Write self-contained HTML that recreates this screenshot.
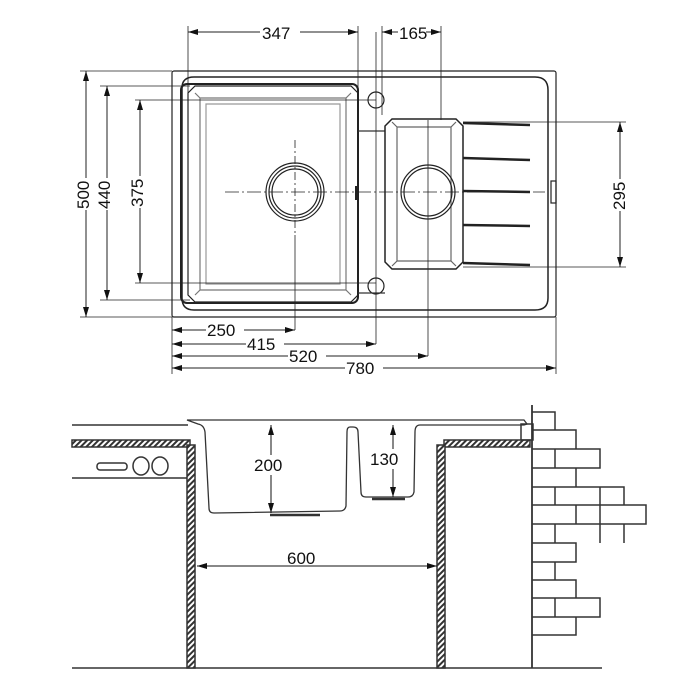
<!DOCTYPE html>
<html><head><style>html,body{margin:0;padding:0;background:#fff}svg{display:block}text{font-family:"Liberation Sans",sans-serif;font-size:17px;fill:#111}</style></head>
<body>
<svg width="700" height="700" viewBox="0 0 700 700" xmlns="http://www.w3.org/2000/svg">
<defs>
<marker id="a" viewBox="0 0 10 6" refX="10" refY="3" markerWidth="10" markerHeight="6" orient="auto-start-reverse" markerUnits="userSpaceOnUse"><path d="M0,0L10,3L0,6z" fill="#111"/></marker>
<pattern id="h" width="4" height="4" patternUnits="userSpaceOnUse" patternTransform="rotate(45)"><rect width="4" height="4" fill="#fff"/><rect width="2" height="4" fill="#333"/></pattern>
</defs>
<g fill="none" stroke="#222" stroke-width="1.2">
<!-- TOP VIEW -->
<rect x="172" y="71" width="384" height="246" rx="2"/>
<path d="M182,88 Q182,77 194,77 L535,77 Q548,77 548,90 L548,298 Q548,310 535,310 L194,310 Q182,310 182,298 Z" stroke-width="1.5"/>
<rect x="181" y="84" width="177" height="219" rx="6" stroke-width="2"/>
<path d="M195,86 L351,86 L358,93 L358,295 L351,302 L195,302 L188,295 L188,93 Z"/>
<path d="M200,98 L346,98 L351,93 M200,98 L195,93 M200,98 L200,290 L195,295 M346,98 L346,290 L351,295 M200,290 L346,290" stroke="#777"/>
<path d="M206,104 L340,104 L340,284 L206,284 Z" stroke="#999"/>
<circle cx="295" cy="192" r="29"/><circle cx="295" cy="192" r="26"/><circle cx="295" cy="192" r="23"/>
<circle cx="376" cy="100" r="8"/><circle cx="376" cy="286" r="8"/>
<path d="M358,131 L385,131 M358,293 L385,293" stroke="#333"/>
<path d="M392,119 L456,119 L463,126 L463,262 L456,269 L392,269 L385,262 L385,126 Z" stroke-width="1.5"/>
<path d="M397,127 L451,127 L456,122 M397,127 L392,122 M397,127 L397,261 L392,266 M451,127 L451,261 L456,266 M397,261 L451,261" stroke="#666"/>
<circle cx="428" cy="192" r="27"/><circle cx="428" cy="192" r="24"/>
<rect x="551" y="181" width="5" height="22"/>
<g stroke-width="2.5"><path d="M463,123 L530,125 M463,158 L530,160 M463,191 L530,192 M463,225 L530,226 M463,263 L530,265"/></g>
<path d="M356,186 L356,200" stroke-width="2"/>
<!-- centerlines -->
<path d="M225,192 L545,192" stroke-dasharray="14,3,2,3" stroke-width="0.8"/>
<path d="M295,140 L295,235" stroke-dasharray="8,3,2,3" stroke-width="0.8"/>
<path d="M295,235 L295,330" stroke-width="0.8"/>
<path d="M428,120 L428,356" stroke-width="0.8"/>
<path d="M376,32 L376,344" stroke-width="0.8"/>
<!-- extension lines -->
<path d="M188,26 L188,95 M358,26 L358,90 M382,26 L382,115 M441,26 L441,120 M80,71 L172,71 M80,317 L172,317 M100,86 L190,86 M100,300 L190,300 M135,100 L376,100 M135,283 L376,283 M463,122 L626,122 M463,267 L626,267 M172,317 L172,374 M556,317 L556,374" stroke-width="0.8"/>
<g stroke-width="1" marker-start="url(#a)" marker-end="url(#a)">
<path d="M188,32 L358,32"/><path d="M382,32 L441,32"/>
<path d="M86,71 L86,317"/><path d="M107,86 L107,300"/><path d="M140,100 L140,283"/><path d="M620,122 L620,267"/>
<path d="M172,330 L295,330"/><path d="M172,344 L376,344"/><path d="M172,356 L428,356"/><path d="M172,368 L556,368"/>
</g>
</g>
<g>
<rect x="260" y="22" width="40" height="18" fill="#fff"/><text x="262" y="39">347</text>
<rect x="398" y="22" width="28" height="18" fill="#fff"/><text x="399" y="39">165</text>
<rect x="206" y="320" width="38" height="18" fill="#fff"/><text x="207" y="336">250</text>
<rect x="246" y="334" width="38" height="18" fill="#fff"/><text x="247" y="350">415</text>
<rect x="288" y="346" width="38" height="18" fill="#fff"/><text x="289" y="362">520</text>
<rect x="345" y="358" width="38" height="18" fill="#fff"/><text x="346" y="374">780</text>
<g transform="translate(91,194) rotate(-90)"><rect x="-16" y="-18" width="32" height="18" fill="#fff"/><text x="-15" y="-2">500</text></g>
<g transform="translate(112,194) rotate(-90)"><rect x="-16" y="-18" width="32" height="18" fill="#fff"/><text x="-15" y="-2">440</text></g>
<g transform="translate(145,192) rotate(-90)"><rect x="-16" y="-18" width="32" height="18" fill="#fff"/><text x="-15" y="-2">375</text></g>
<g transform="translate(627,195) rotate(-90)"><rect x="-16" y="-18" width="32" height="18" fill="#fff"/><text x="-15" y="-2">295</text></g>
</g>
<!-- SIDE VIEW -->
<g fill="none" stroke="#333" stroke-width="1.5">
<path d="M72,425 L188,425 M72,478 L188,478 M72,668 L602,668"/>
<rect x="72" y="440" width="118" height="7" fill="url(#h)"/>
<rect x="444" y="440" width="86" height="7" fill="url(#h)"/>
<rect x="187" y="445" width="8" height="223" fill="url(#h)"/>
<rect x="437" y="445" width="8" height="223" fill="url(#h)"/>
<rect x="97" y="463" width="30" height="7" rx="3"/>
<ellipse cx="141" cy="466" rx="8" ry="9"/><ellipse cx="160" cy="466" rx="8" ry="9"/>
<path d="M187,420 L524,420 L527,424 L524,425 L420,425 Q415,425 415,432 L414,492 Q413,497 408,497 L366,497 Q361,497 361,492 L358,432 Q358,427 353,427 L350,427 Q347,427 347,432 L346,506 Q345,511 340,511 L214,513 Q209,513 209,508 L205,432 Q204,425 198,424 Z" stroke-width="1.3"/>
<path d="M270,515 L320,515 M372,499 L405,499" stroke-width="2.5"/>
<rect x="521" y="424" width="12" height="16"/>
<path d="M532,405 L532,668" stroke-width="1.8"/>
<g stroke-width="1.5">
<path d="M532,412 H555 V430 M532,430 H576 V449 M532,449 H600 V468 H532 M555,449 V468 M576,468 V487 M532,487 H624 V505 M555,487 V505 M600,487 V505 M532,505 H646 V524 H624 M576,505 V524 M600,505 V524 M532,524 H624 V543 M555,524 V543 M600,524 V543 M532,543 H576 V562 H532 M555,562 V580 M532,580 H576 V598 M532,598 H600 V617 H532 M555,598 V617 M576,617 V635 H532"/>
</g>
</g>
<g stroke="#111" stroke-width="1" fill="none">
<path d="M271,425 L271,513" marker-start="url(#a)" marker-end="url(#a)"/>
<path d="M393,425 L393,497" marker-start="url(#a)" marker-end="url(#a)"/>
<path d="M197,566 L437,566" marker-start="url(#a)" marker-end="url(#a)"/>
</g>
<rect x="253" y="455" width="36" height="20" fill="#fff"/><text x="254" y="471">200</text>
<rect x="369" y="449" width="36" height="20" fill="#fff"/><text x="370" y="465">130</text>
<text x="287" y="564">600</text>
</svg>
</body></html>
